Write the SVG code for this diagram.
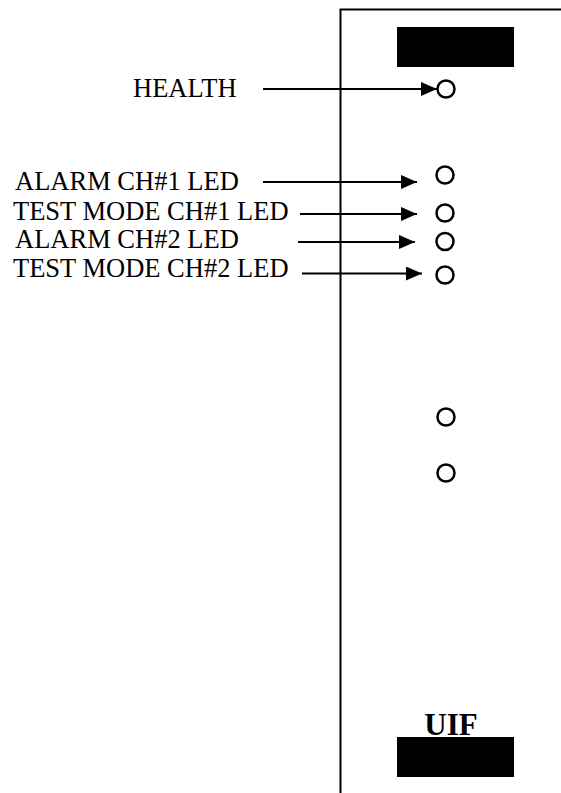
<svg xmlns="http://www.w3.org/2000/svg" width="561" height="793" viewBox="0 0 561 793">
<style>
.lbl{font-family:"Liberation Serif","Times New Roman",serif;font-size:26.5px;fill:#000}
.led{fill:#fff;stroke:#000;stroke-width:2.5}
.conn{stroke:#000;stroke-width:2;fill:none}
.panel{stroke:#000;stroke-width:2;fill:none}
</style>
<defs>
<marker id="ah" markerUnits="userSpaceOnUse" markerWidth="16" markerHeight="14" refX="16" refY="7" orient="auto">
<path d="M0,0 L16,7 L0,14 Z" fill="#000"/>
</marker>
</defs>
<rect width="561" height="793" fill="#fff"/>
<g id="panel">
<path class="panel" d="M340.5,793 V9.5 H561"/>
<rect x="397" y="27" width="117" height="40" fill="#000"/>
<rect x="397" y="737" width="117" height="40" fill="#000"/>
<text x="451" y="735" text-anchor="middle" style="font-family:'Liberation Serif','Times New Roman',serif;font-size:31px;font-weight:bold">UIF</text>
</g>
<g id="leds">
<circle class="led" cx="446" cy="89" r="8.5"/>
<circle class="led" cx="445" cy="175" r="8.5"/>
<circle class="led" cx="445" cy="213" r="8.5"/>
<circle class="led" cx="445" cy="241.5" r="8.5"/>
<circle class="led" cx="445" cy="275" r="8.5"/>
<circle class="led" cx="446" cy="417" r="8.5"/>
<circle class="led" cx="446" cy="473" r="8.5"/>
</g>
<g id="labels">
<text class="lbl" x="133" y="97">HEALTH</text>
<text class="lbl" x="15" y="190">ALARM CH#1 LED</text>
<text class="lbl" x="13" y="220">TEST MODE CH#1 LED</text>
<text class="lbl" x="15" y="248">ALARM CH#2 LED</text>
<text class="lbl" x="13" y="277">TEST MODE CH#2 LED</text>
</g>
<g id="connectors">
<line class="conn" x1="263" y1="89" x2="437" y2="89" marker-end="url(#ah)"/>
<line class="conn" x1="263" y1="182" x2="417" y2="182" marker-end="url(#ah)"/>
<line class="conn" x1="300" y1="214" x2="417" y2="214" marker-end="url(#ah)"/>
<line class="conn" x1="298" y1="242" x2="415" y2="242" marker-end="url(#ah)"/>
<line class="conn" x1="302" y1="273.5" x2="422" y2="273.5" marker-end="url(#ah)"/>
</g>
</svg>
